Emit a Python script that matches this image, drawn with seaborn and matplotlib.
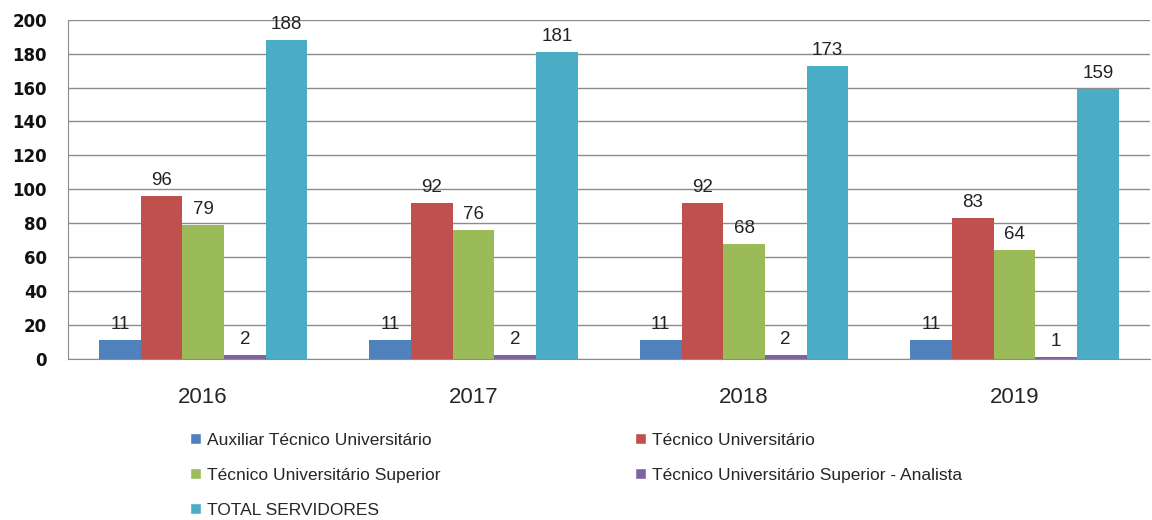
import numpy as np
import pandas as pd
import matplotlib
matplotlib.use('Agg')
import matplotlib.pyplot as plt
import seaborn as sns
from matplotlib.patches import Patch

# dados
anos = ['2016', '2017', '2018', '2019']
cargos = ['Auxiliar Técnico Universitário', 'Técnico Universitário',
          'Técnico Universitário Superior', 'Técnico Universitário Superior - Analista',
          'TOTAL SERVIDORES']
auxiliar = [11, 11, 11, 11]
tecnico = [96, 92, 92, 83]
superior = [79, 76, 68, 64]
analista = [2, 2, 2, 1]
total = [188, 181, 173, 159]
cores = ['#4F81BD', '#C0504D', '#9BBB59', '#8064A2', '#4BACC6']

series = [auxiliar, tecnico, superior, analista, total]
linhas = []
for c, vals in zip(cargos, series):
    for a, v in zip(anos, vals):
        linhas.append({'ano': a, 'cargo': c, 'valor': v})
df = pd.DataFrame(linhas)

sns.set_style('white')
plt.rcParams['font.family'] = ['Liberation Sans', 'DejaVu Sans']

fig = plt.figure(figsize=(11.52, 5.2), dpi=100)
ax = fig.add_axes([0.059, 0.31, 0.939, 0.652])

sns.barplot(data=df, x='ano', y='valor', hue='cargo', hue_order=cargos,
            palette=cores, saturation=1, width=0.77, ax=ax, legend=False,
            linewidth=0, edgecolor='none')

for cont in ax.containers:
    ax.bar_label(cont, fmt='%d', padding=5, fontsize=13.5, color='#222222')

ax.set_ylim(0, 200)
ax.set_yticks(range(0, 201, 20))
ax.set_xlim(-0.5, 3.5)
ax.yaxis.grid(True, color='#8c8c8c', linewidth=1)
ax.set_axisbelow(True)
ax.set_xlabel('')
ax.set_ylabel('')

for s in ['top', 'right']:
    ax.spines[s].set_visible(False)
ax.spines['left'].set_color('#8c8c8c')
ax.spines['bottom'].set_color('#8c8c8c')

# ticks nas divisas das categorias
ax.set_xticks([0, 1, 2, 3])
ax.set_xticklabels(anos, fontsize=16)
ax.set_xticks([-0.5, 0.5, 1.5, 2.5, 3.5], minor=True)
ax.tick_params(axis='x', which='major', length=0, pad=20)
ax.tick_params(axis='x', which='minor', length=8, color='#8c8c8c', direction='out')
ax.tick_params(axis='y', length=7, color='#8c8c8c', direction='out', pad=8)
for t in ax.get_yticklabels():
    t.set_fontsize(12)
    t.set_fontweight('bold')
    t.set_family('DejaVu Sans')
    t.set_color('#111111')

ordem = [0, 2, 4, 1, 3]
handles = [Patch(facecolor=cores[i], label=cargos[i]) for i in ordem]
fig.legend(handles=handles, ncol=2, loc='upper left', bbox_to_anchor=(0.151, 0.198),
           frameon=False, fontsize=12.5, handlelength=0.65, handleheight=0.65,
           handletextpad=0.35, columnspacing=11.2, labelspacing=1.15)

fig.savefig('out.png', dpi=100)
